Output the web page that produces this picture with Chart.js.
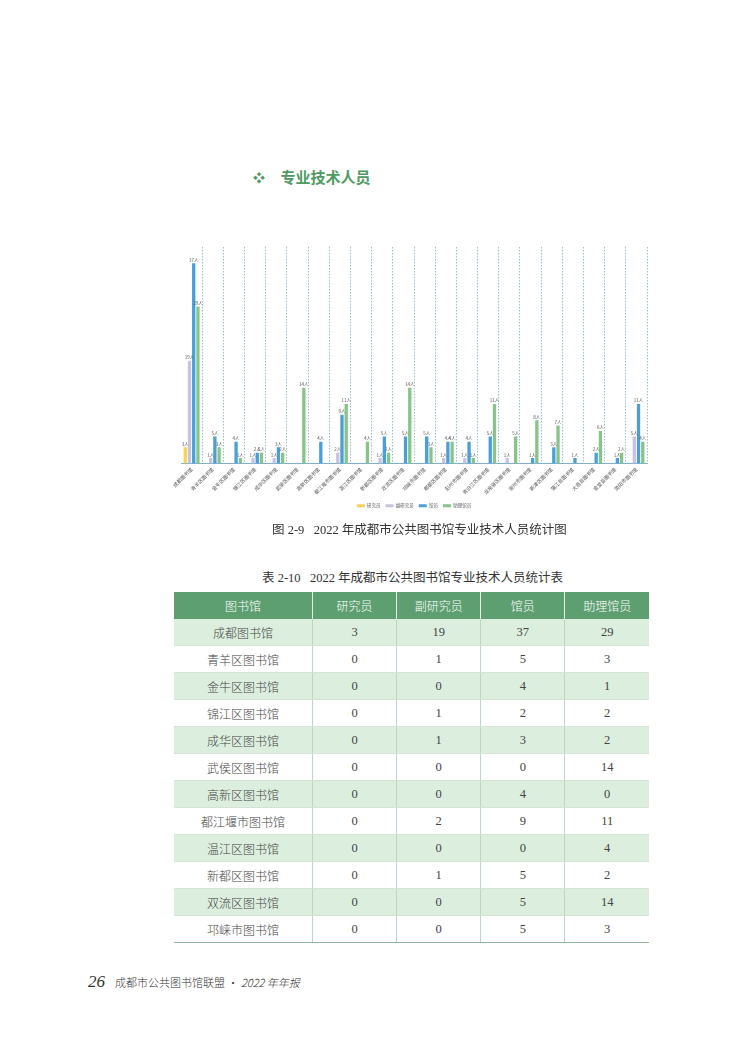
<!DOCTYPE html>
<html>
<head>
<meta charset="utf-8">
<script src="https://cdn.jsdelivr.net/npm/chart.js@4/dist/chart.umd.min.js"></script>
<style>
  html,body{margin:0;padding:0;background:#fff;}
  body{width:756px;height:1052px;position:relative;overflow:hidden;font-family:"Noto Sans CJK SC",sans-serif;}
  .abs{position:absolute;}
  #heading{left:253px;top:166px;color:#4f9a62;font-size:15px;font-weight:bold;white-space:nowrap;}
  #heading .dia{display:inline-block;width:24px;font-size:12px;}
  #chartBox{left:160px;top:240px;width:500px;height:282px;}
  .cap{font-family:"Liberation Serif","Noto Sans CJK SC",serif;font-size:12.5px;color:#333;white-space:nowrap;}
  #cap1{left:272px;top:519px;}
  #cap2{left:262px;top:567px;}
  table{position:absolute;left:174px;top:592px;width:475px;border-collapse:collapse;table-layout:fixed;}
  th{background:#5e9f72;color:#fff;font-weight:300;font-size:12px;height:27px;padding:0;border-left:1px solid #e6f1e8;}
  th:first-child{border-left:none;}
  td{height:26px;padding:0;text-align:center;font-size:12px;font-weight:300;color:#444;border-left:1px solid #bcd6c1;border-bottom:1px solid #d3e3d6;}
  td:first-child{border-left:none;}
  td.num{font-family:"Liberation Serif",serif;font-size:12.5px;font-weight:normal;}
  tr.alt td{background:#dcefdf;}
  tbody tr:last-child td{border-bottom:1px solid #8fb89a;}
  #footer{left:88px;top:968px;white-space:nowrap;color:#333;}
  #footer .pg{font-family:"Liberation Serif",serif;font-style:italic;font-size:17px;margin-right:10px;}
  #footer .t{font-size:11px;font-weight:300;}
  #footer .i{font-size:11px;font-style:italic;font-weight:300;}
</style>
</head>
<body>
<div id="heading" class="abs"><span class="dia">❖</span> 专业技术人员</div>
<div id="chartBox" class="abs"><canvas id="c"></canvas></div>
<div id="cap1" class="abs cap">图 2-9&nbsp;&nbsp;&nbsp;2022 年成都市公共图书馆专业技术人员统计图</div>
<div id="cap2" class="abs cap">表 2-10&nbsp;&nbsp;&nbsp;2022 年成都市公共图书馆专业技术人员统计表</div>
<table id="tbl"><thead><tr id="hdr"></tr></thead><tbody id="tb"></tbody></table>
<div id="footer" class="abs"><span class="pg">26</span><span class="t">成都市公共图书馆联盟 · </span><span class="i">2022 年年报</span></div>

<script>
const libraries = ["成都图书馆","青羊区图书馆","金牛区图书馆","锦江区图书馆","成华区图书馆","武侯区图书馆","高新区图书馆","都江堰市图书馆","温江区图书馆","新都区图书馆","双流区图书馆","邛崃市图书馆","郫都区图书馆","彭州市图书馆","青白江区图书馆","龙泉驿区图书馆","崇州市图书馆","新津区图书馆","蒲江县图书馆","大邑县图书馆","金堂县图书馆","简阳市图书馆"];
const seriesNames = ["研究员","副研究员","馆员","助理馆员"];
const researcher      = [3,0,0,0,0,0,0,0,0,0,0,0,0,0,0,0,0,0,0,0,0,0];
const assocResearcher = [19,1,0,1,1,0,0,2,0,1,0,0,1,1,0,1,0,0,0,0,0,5];
const librarian       = [37,5,4,2,3,0,4,9,0,5,5,5,4,4,5,0,1,3,1,2,1,11];
const assistant       = [29,3,1,2,2,14,0,11,4,2,14,3,4,1,11,5,8,7,0,6,2,4];
const tableRowCount = 12;
const tableHeader = ["图书馆","研究员","副研究员","馆员","助理馆员"];
const colors = ["#f6d35b","#c9c3e3","#4a9fd6","#88c489"];

// table
const hdr = document.getElementById('hdr');
tableHeader.forEach(h => { const th = document.createElement('th'); th.textContent = h; hdr.appendChild(th); });
const tb = document.getElementById('tb');
for (let i = 0; i < tableRowCount; i++) {
  const tr = document.createElement('tr');
  if (i % 2 === 0) tr.className = 'alt';
  const cells = [libraries[i], researcher[i], assocResearcher[i], librarian[i], assistant[i]];
  cells.forEach((v, j) => { const td = document.createElement('td'); td.textContent = v; if (j > 0) td.className = 'num'; tr.appendChild(td); });
  tb.appendChild(tr);
}
document.querySelector('#tbl th').style.width = '138px';

const labelPlugin = {
  id: 'valLabels',
  afterDatasetsDraw(chart) {
    const ctx = chart.ctx;
    ctx.save();
    ctx.font = '4.5px "Noto Sans CJK SC"';
    ctx.fillStyle = '#555';
    ctx.textAlign = 'center';
    ctx.textBaseline = 'bottom';
    chart.data.datasets.forEach((ds, di) => {
      const meta = chart.getDatasetMeta(di);
      meta.data.forEach((el, i) => {
        const v = ds.data[i];
        if (v > 0) ctx.fillText(v + '人', el.x, el.y - 1);
      });
    });
    ctx.restore();
  }
};

const series = [researcher, assocResearcher, librarian, assistant];
new Chart(document.getElementById('c'), {
  type: 'bar',
  data: {
    labels: libraries,
    datasets: series.map((d, i) => ({
      label: seriesNames[i], data: d, backgroundColor: colors[i],
      barPercentage: 0.78, categoryPercentage: 0.8
    }))
  },
  options: {
    responsive: true, maintainAspectRatio: false, animation: false,
    layout: { padding: { left: 21, right: 13, top: 7, bottom: 4 } },
    plugins: {
      tooltip: { enabled: false },
      legend: {
        position: 'bottom',
        labels: { boxWidth: 8, boxHeight: 3, padding: 5, color: '#555', font: { size: 4.5, family: '"Noto Sans CJK SC"' } }
      }
    },
    scales: {
      y: { display: false, min: 0, max: 40 },
      x: {
        grid: {
          offset: true, drawTicks: false,
          color: c => c.index === 0 ? 'rgba(0,0,0,0)' : '#7fb0c6',
          lineWidth: 0.8
        },
        border: { display: true, color: '#7fb0cc', width: 1, dash: [1.5, 1.5] },
        ticks: { maxRotation: 45, minRotation: 45, autoSkip: false, padding: 3, color: '#555', font: { size: 5, family: '"Noto Sans CJK SC"' } }
      }
    }
  },
  plugins: [labelPlugin]
});
</script>
</body>
</html>
